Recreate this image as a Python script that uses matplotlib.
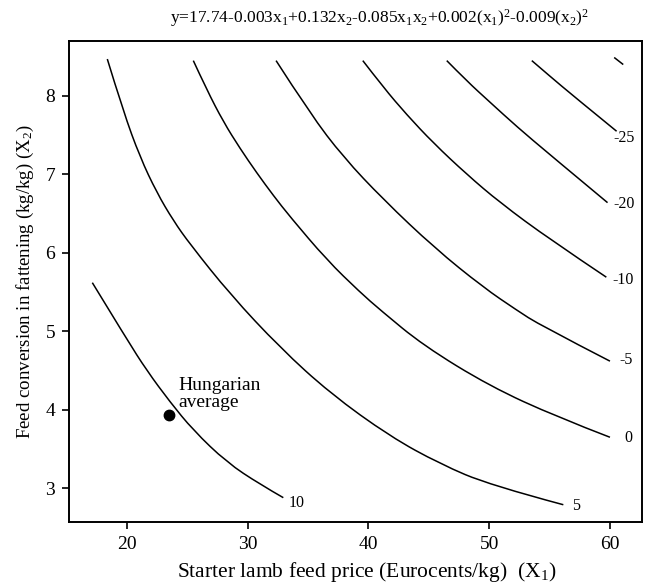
import matplotlib
matplotlib.use("Agg")
import matplotlib.pyplot as plt
from matplotlib.path import Path
from matplotlib.patches import PathPatch

plt.rcParams['font.family'] = ['Liberation Serif', 'DejaVu Serif']
plt.rcParams['mathtext.fontset'] = 'custom'
plt.rcParams['mathtext.rm'] = 'Liberation Serif'
plt.rcParams['mathtext.it'] = 'Liberation Serif'

# contour lines: (x1 price, x2 feed conversion)
c10_x = [17.15, 20.0, 21.66, 23.58, 25.5, 28.28, 31.03, 32.96]
c10_y = [5.62, 4.90, 4.50, 4.10, 3.74, 3.33, 3.05, 2.88]

c5_x = [18.39, 19.72, 21.10, 22.48, 23.86, 25.24, 28.57, 32.7, 36.84, 41.8, 45.94, 50.07, 56.14]
c5_y = [8.47, 7.80, 7.22, 6.77, 6.41, 6.11, 5.47, 4.79, 4.21, 3.66, 3.31, 3.04, 2.79]

c0_x = [25.51, 26.62, 28.0, 29.38, 30.76, 32.14, 33.52, 36.56, 39.3, 41.0, 44.55, 50.07, 55.6, 60.0]
c0_y = [8.45, 8.08, 7.67, 7.33, 7.02, 6.73, 6.46, 5.91, 5.50, 5.27, 4.82, 4.30, 3.91, 3.65]

cm5_x = [32.36, 35.2, 37.93, 41.24, 45.5, 49.52, 52.28, 54.2, 60.0]
cm5_y = [8.45, 7.77, 7.22, 6.68, 6.06, 5.56, 5.27, 5.08, 4.62]

cm10_x = [39.54, 41.24, 43.18, 45.38, 48.15, 50.9, 55.04, 59.7]
cm10_y = [8.45, 8.11, 7.76, 7.40, 7.00, 6.64, 6.17, 5.69]

cm20_x = [46.49, 48.15, 50.07, 52.28, 55.04, 59.8]
cm20_y = [8.45, 8.19, 7.92, 7.61, 7.25, 6.64]

cm25_x = [53.53, 55.04, 56.97, 60.55]
cm25_y = [8.45, 8.25, 8.00, 7.55]

cm30_x = [60.35, 61.1]
cm30_y = [8.49, 8.40]

# label text and where it sits
level_labels = ['10', '5', '0', '-5', '-10', '-20', '-25']
label_x = [34.1, 57.2, 61.5, 61.34, 61.09, 61.17, 61.17]
label_y = [2.81, 2.77, 3.64, 4.63, 5.66, 6.62, 7.46]

hun_x, hun_y = 23.53, 3.93


def smooth_path(xs, ys):
    # quadratic bezier through the read points, drawn by the Path machinery
    pts = list(zip(xs, ys))
    if len(pts) < 3:
        return Path(pts)
    verts = [pts[0]]
    codes = [Path.MOVETO]
    for i in range(1, len(pts) - 1):
        mid = ((pts[i][0] + pts[i + 1][0]) / 2, (pts[i][1] + pts[i + 1][1]) / 2)
        if i == len(pts) - 2:
            mid = pts[-1]
        verts += [pts[i], mid]
        codes += [Path.CURVE3, Path.CURVE3]
    return Path(verts, codes)


fig = plt.figure(figsize=(6.48, 5.85), dpi=100)
ax = fig.add_axes([0.1065, 0.1077, 0.8842, 0.8222])

curves = [(c10_x, c10_y), (c5_x, c5_y), (c0_x, c0_y), (cm5_x, cm5_y),
          (cm10_x, cm10_y), (cm20_x, cm20_y), (cm25_x, cm25_y), (cm30_x, cm30_y)]
for cx, cy in curves:
    ax.add_patch(PathPatch(smooth_path(cx, cy), fill=False, edgecolor='black',
                           lw=1.1, capstyle='butt'))

for txt, lx, ly in zip(level_labels, label_x, label_y):
    ax.text(lx, ly, txt, fontsize=11.5, ha='center', va='center')

ax.plot([hun_x], [hun_y], 'o', color='black', markersize=7.5)
ax.text(24.26, 4.04, 'Hungarian\naverage', fontsize=14, ha='left', va='baseline',
        linespacing=1.0)

ax.set_xlim(15.22, 62.65)
ax.set_ylim(2.57, 8.70)
ax.set_xticks([20, 30, 40, 50, 60])
ax.set_yticks([3, 4, 5, 6, 7, 8])
ax.tick_params(direction='out', length=5, width=1.2, labelsize=14, pad=5)
for sp in ax.spines.values():
    sp.set_linewidth(1.4)

ax.set_xlabel('Starter lamb feed price (Eurocents/kg)  (X$_1$)', fontsize=15.5)
ax.xaxis.set_label_coords(0.52, -0.079)
ax.set_ylabel('Feed conversion in fattening (kg/kg) (X$_2$)', fontsize=13.6, labelpad=7)
ax.set_title('y=17.74-0.003x$_1$+0.132x$_2$-0.085x$_1$x$_2$+0.002(x$_1$)$^2$-0.009(x$_2$)$^2$',
             fontsize=12.5, pad=13, x=0.542)

fig.savefig('out.png', dpi=100)
